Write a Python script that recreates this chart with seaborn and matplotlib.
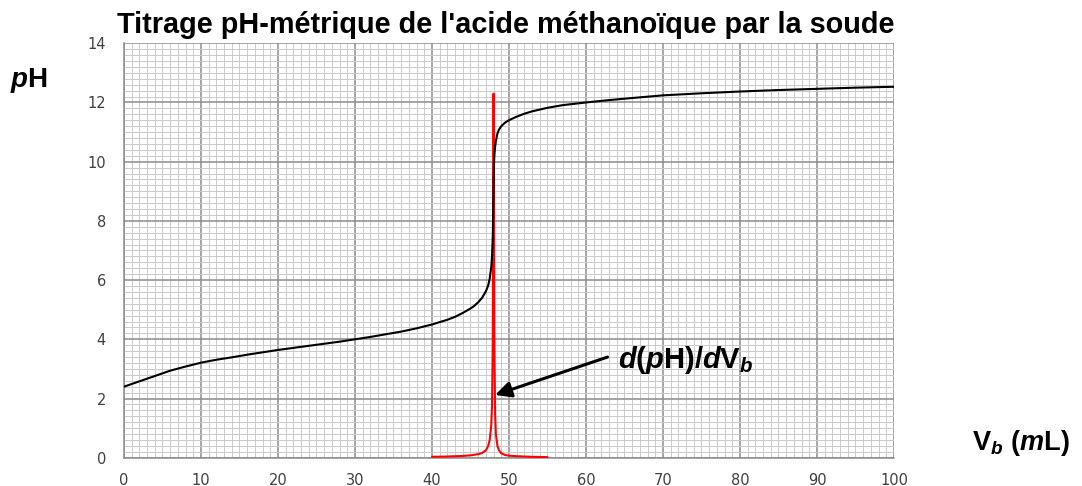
import numpy as np
import pandas as pd
import matplotlib
matplotlib.use("Agg")
import matplotlib.pyplot as plt
import seaborn as sns
from matplotlib.ticker import MultipleLocator

# --- data ---
vb_ph = [0, 2, 4, 6, 8, 10, 12, 14, 16, 18, 20, 22, 24, 26, 28, 30, 32, 34, 36, 38,
         40, 41, 42, 43, 44, 45, 45.5, 46, 46.5, 47, 47.3, 47.5, 47.7, 47.8, 47.9,
         47.95, 48.0, 48.05, 48.1, 48.2, 48.3, 48.5, 48.7, 49, 49.5, 50, 51, 52, 53,
         55, 57, 60, 63, 66, 70, 75, 80, 85, 90, 95, 100]
ph = [2.40, 2.58, 2.76, 2.94, 3.08, 3.21, 3.31, 3.39, 3.48, 3.56, 3.64, 3.71, 3.78,
      3.85, 3.92, 4.00, 4.08, 4.17, 4.26, 4.37, 4.50, 4.58, 4.66, 4.76, 4.89, 5.04,
      5.13, 5.25, 5.40, 5.62, 5.82, 6.05, 6.45, 6.80, 7.50, 8.30, 9.30, 9.90, 10.20,
      10.50, 10.70, 10.95, 11.08, 11.20, 11.32, 11.40, 11.52, 11.62, 11.70, 11.82,
      11.91, 12.00, 12.08, 12.15, 12.24, 12.31, 12.37, 12.42, 12.46, 12.50, 12.53]

vb_deriv = [40, 42, 44, 45, 46, 46.5, 47, 47.3, 47.5, 47.7, 47.8, 47.9, 47.95, 48.0,
            48.05, 48.1, 48.2, 48.3, 48.5, 48.7, 49, 49.5, 50, 51, 52, 53, 55]
deriv = [0.03, 0.04, 0.06, 0.08, 0.12, 0.16, 0.25, 0.40, 0.60, 1.10, 1.80, 4.00, 8.00,
         12.30, 8.00, 4.00, 1.50, 0.80, 0.40, 0.25, 0.15, 0.09, 0.07, 0.05, 0.04,
         0.03, 0.02]

x_ticks = [0, 10, 20, 30, 40, 50, 60, 70, 80, 90, 100]
y_ticks = [0, 2, 4, 6, 8, 10, 12, 14]

title = "Titrage pH-métrique de l'acide méthanoïque par la soude"

sns.set_style("white")
plt.rcParams['font.family'] = ['DejaVu Sans']
plt.rcParams['text.color'] = 'black'
plt.rcParams['mathtext.fontset'] = 'custom'
plt.rcParams['mathtext.rm'] = 'Liberation Sans:bold'
plt.rcParams['mathtext.bf'] = 'Liberation Sans:bold'
plt.rcParams['mathtext.it'] = 'Liberation Sans:bold:italic'

fig = plt.figure(figsize=(10.82, 4.86), dpi=100)
ax = fig.add_axes([0.1146, 0.0582, 0.7116, 0.8528])

df1 = pd.DataFrame({"Vb": vb_ph, "pH": ph})
df2 = pd.DataFrame({"Vb": vb_deriv, "d": deriv})
sns.lineplot(data=df1, x="Vb", y="pH", ax=ax, color="black", linewidth=1.5,
             sort=False, estimator=None, zorder=4)
sns.lineplot(data=df2, x="Vb", y="d", ax=ax, color="#ff0000", linewidth=1.5,
             sort=False, estimator=None, zorder=3)

ax.set_xlim(0, 100)
ax.set_ylim(0, 14)
ax.set_xticks(x_ticks)
ax.set_yticks(y_ticks)
ax.xaxis.set_minor_locator(MultipleLocator(1))
ax.yaxis.set_minor_locator(MultipleLocator(0.2))
ax.grid(which='major', color='#8c8c8c', linewidth=1.1, zorder=1)
ax.grid(which='minor', color='#cacaca', linewidth=0.7, zorder=0)
ax.set_axisbelow(True)
for s in ['top', 'right']:
    ax.spines[s].set_visible(False)
for s in ['left', 'bottom']:
    ax.spines[s].set_color('#8c8c8c')
    ax.spines[s].set_linewidth(1.1)
ax.tick_params(axis='both', which='major', length=4.5, color='#8c8c8c', width=1,
               labelsize=10.5, labelcolor='#404040')
ax.tick_params(axis='x', which='major', pad=6.5)
ax.tick_params(axis='y', which='major', pad=8.5)
ax.tick_params(axis='both', which='minor', length=0)
ax.set_xlabel("")
ax.set_ylabel("")

fig.text(0.4672, 0.932, title, ha='center', va='baseline', fontsize=20.8,
         fontweight='bold', family='Liberation Sans')
fig.text(0.0092, 0.821, r'$p\mathrm{H}$', ha='left', va='baseline', fontsize=20)
fig.text(0.898, 0.074, r'$\mathrm{V}_b\ \mathrm{(}m\mathrm{L)}$', ha='left',
         va='baseline', fontsize=19.5)

ax.text(64.1, 3.03, r'$d\mathrm{(}p\mathrm{H)/}d\mathrm{V}_b$', fontsize=21,
        ha='left', va='baseline', zorder=6)
ax.annotate('', xy=(48.2, 2.12), xytext=(62.8, 3.40),
            arrowprops=dict(arrowstyle='-|>', color='black', lw=2.2,
                            mutation_scale=24, shrinkA=0, shrinkB=0),
            zorder=6)

fig.savefig("out.png", dpi=100)
